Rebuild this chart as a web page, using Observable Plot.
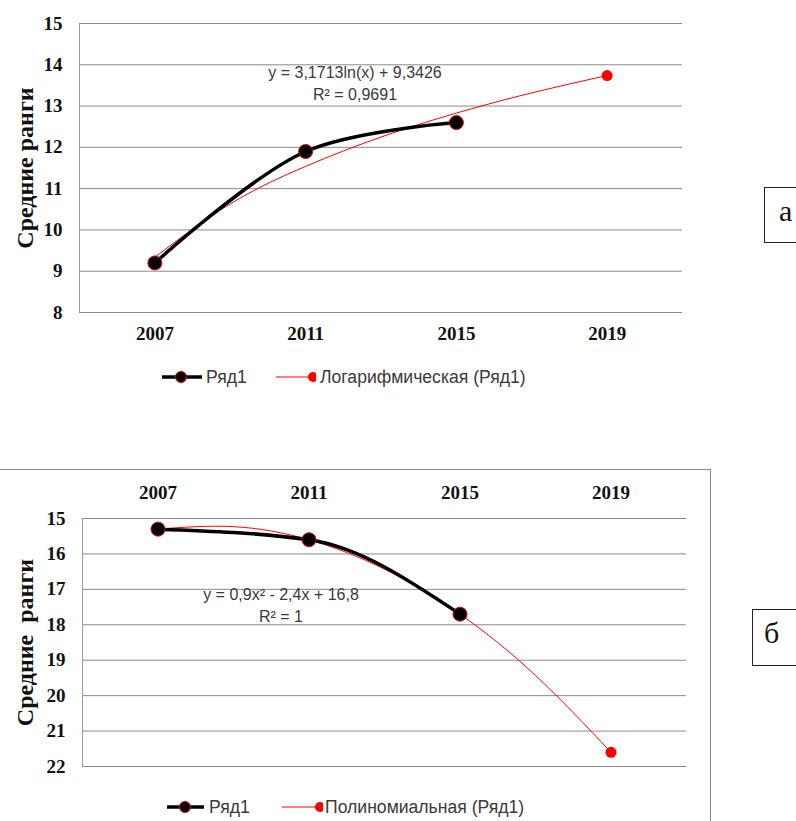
<!DOCTYPE html>
<html>
<head>
<meta charset="utf-8">
<script src="https://cdn.jsdelivr.net/npm/d3@7"></script>
<script src="https://cdn.jsdelivr.net/npm/@observablehq/plot@0.6"></script>
<style>
  html, body { margin: 0; padding: 0; background: #fff; }
  body { width: 796px; height: 821px; position: relative; overflow: hidden; }
  .abs { position: absolute; }
  .eq { font-family: "Liberation Sans", sans-serif; font-size: 16px; color: #3a3a3a; text-align: center; line-height: 22px; white-space: nowrap; }
  .leg { font-family: "Liberation Sans", sans-serif; font-size: 17.6px; color: #3a3a3a; white-space: nowrap; line-height: 20px; }
  .tag { border: 1px solid #222; font-family: "Liberation Serif", serif; font-size: 30px; color: #111; box-sizing: border-box; }
  #frameB { border: 1px solid #8a8a8a; }
</style>
</head>
<body>
<div id="frameB" class="abs" style="left:-1px; top:469px; width:710px; height:400px;"></div>
<div id="chartA" class="abs" style="left:0; top:0;"></div>
<div id="chartB" class="abs" style="left:0; top:469px;"></div>

<div class="abs eq" style="left:205px; top:62px; width:300px;">y = 3,1713ln(x) + 9,3426<br>R² = 0,9691</div>
<div class="abs eq" style="left:131px; top:584px; width:300px;">y = 0,9x² - 2,4x + 16,8<br>R² = 1</div>

<div class="abs leg" id="legA" style="left:0; top:367px;"></div>
<div class="abs leg" id="legB" style="left:0; top:797px;"></div>

<div class="abs tag" style="left:764px; top:187px; width:60px; height:56px;"><span class="abs" style="left:14px; top:6px;">a</span></div>
<div class="abs tag" style="left:752px; top:609px; width:60px; height:57px;"><span class="abs" style="left:11px; top:6px;">б</span></div>

<script>
// ---- data ----
const years = [2007, 2011, 2015, 2019];
const yearLabels = ["2007", "2011", "2015", "2019"];

// chart a
const seriesYearsA = [2007, 2011, 2015];
const seriesA = [9.2, 11.9, 12.6];                 // Ряд1
const trendYearsA = [2007, 2009, 2011, 2013, 2015, 2017, 2019];
const trendA = [9.34, 10.63, 11.54, 12.25, 12.83, 13.32, 13.74]; // Логарифмическая (Ряд1)
const ticksA = [8, 9, 10, 11, 12, 13, 14, 15];

// chart б
const seriesYearsB = [2007, 2011, 2015];
const seriesB = [15.3, 15.6, 17.7];                // Ряд1
const trendYearsB = [2007, 2009, 2011, 2013, 2015, 2017, 2019];
const trendB = [15.3, 15.23, 15.6, 16.43, 17.7, 19.43, 21.6]; // Полиномиальная (Ряд1)
const ticksB = [15, 16, 17, 18, 19, 20, 21, 22];

const yLabel = "Средние ранги";
const yLabelB = "Средние  ранги";
const legendNames = ["Ряд1", "Логарифмическая (Ряд1)", "Полиномиальная (Ряд1)"];

// ---- helpers ----
const serif = "'Liberation Serif', 'Times New Roman', serif";
const gridColor = "#8a8a8a";
const rows = (xs, ys) => xs.map((x, i) => ({x, y: ys[i]}));

function chart({seriesX, seriesY, trendX, trendY, ticks, domain, reverse, xAnchor, label, curve,
                width, height, mt, mb, ml, mr, xPad, labelDx}) {
  const s = rows(seriesX, seriesY);
  const t = rows(trendX, trendY);
  const last = [t[t.length - 1]];
  return Plot.plot({
    width, height,
    marginTop: mt, marginBottom: mb, marginLeft: ml, marginRight: mr,
    style: {background: "transparent", overflow: "visible"},
    x: {type: "linear", domain: [2005, 2021]},
    y: {domain, reverse},
    marks: [
      Plot.ruleY(ticks, {stroke: gridColor, strokeWidth: 1}),
      Plot.frame({anchor: "left", stroke: "#9a9a9a"}),
      Plot.axisX(years, {anchor: xAnchor, tickSize: 0, tickPadding: xPad, label: null,
        tickFormat: (d) => yearLabels[years.indexOf(d)],
        fontSize: 19, fontWeight: "bold", fontFamily: serif, fill: "#111"}),
      Plot.axisY(ticks, {anchor: "left", tickSize: 0, tickPadding: 17, label: null,
        tickFormat: d => String(d),
        fontSize: 19, fontWeight: "bold", fontFamily: serif, fill: "#111"}),
      Plot.text([label], {frameAnchor: "left", dx: labelDx, rotate: -90,
        fontSize: 24, fontWeight: "bold", fontFamily: serif, fill: "#111", textAnchor: "middle"}),
      Plot.line(t, {x: "x", y: "y", stroke: "#ff0000", strokeWidth: 1, curve: "natural"}),
      Plot.line(s, {x: "x", y: "y", stroke: "#000", strokeWidth: 3.5, curve}),
      Plot.dot(s, {x: "x", y: "y", r: 7, fill: "#000", stroke: "#e00000", strokeWidth: 1}),
      Plot.dot(last, {x: "x", y: "y", r: 5.5, fill: "#ff0000", stroke: "none"})
    ]
  });
}

document.getElementById("chartA").append(chart({
  seriesX: seriesYearsA, seriesY: seriesA, trendX: trendYearsA, trendY: trendA,
  ticks: ticksA, domain: [8, 15], reverse: false, xAnchor: "bottom", label: yLabel, curve: "catmull-rom",
  width: 700, height: 345, mt: 23, mb: 33, ml: 79, mr: 18, xPad: 14, labelDx: -54
}));

document.getElementById("chartB").append(chart({
  seriesX: seriesYearsB, seriesY: seriesB, trendX: trendYearsB, trendY: trendB,
  ticks: ticksB, domain: [15, 22], reverse: true, xAnchor: "top", label: yLabelB, curve: "monotone-x",
  width: 700, height: 320, mt: 49, mb: 23, ml: 82, mr: 14, xPad: 20, labelDx: -57
}));

// ---- legends ----
function legend(el, parts) {
  const svgNS = "http://www.w3.org/2000/svg";
  for (const p of parts) {
    const sw = document.createElementNS(svgNS, "svg");
    sw.setAttribute("width", p.w); sw.setAttribute("height", 20);
    sw.style.position = "absolute"; sw.style.left = p.x + "px"; sw.style.top = "0px";
    sw.innerHTML = `<line x1="0" x2="${p.w}" y1="10" y2="10" stroke="${p.stroke}" stroke-width="${p.sw}"/>` +
      `<circle cx="${p.cx}" cy="10" r="${p.r}" fill="${p.fill}" stroke="${p.ms}" stroke-width="1"/>`;
    el.append(sw);
    const tx = document.createElement("span");
    tx.textContent = p.text; tx.style.position = "absolute"; tx.style.left = p.tx + "px"; tx.style.top = "0px";
    el.append(tx);
  }
}
legend(document.getElementById("legA"), [
  {x: 162, w: 40, stroke: "#000", sw: 3.5, cx: 19, r: 5.5, fill: "#000", ms: "#e00000", text: legendNames[0], tx: 206},
  {x: 276, w: 40, stroke: "#ff0000", sw: 1, cx: 37, r: 5, fill: "#ff0000", ms: "none", text: legendNames[1], tx: 320}
]);
legend(document.getElementById("legB"), [
  {x: 167, w: 37, stroke: "#000", sw: 3.5, cx: 18, r: 5.5, fill: "#000", ms: "#e00000", text: legendNames[0], tx: 209},
  {x: 282, w: 41, stroke: "#ff0000", sw: 1, cx: 38, r: 5, fill: "#ff0000", ms: "none", text: legendNames[2], tx: 325}
]);
</script>
</body>
</html>
